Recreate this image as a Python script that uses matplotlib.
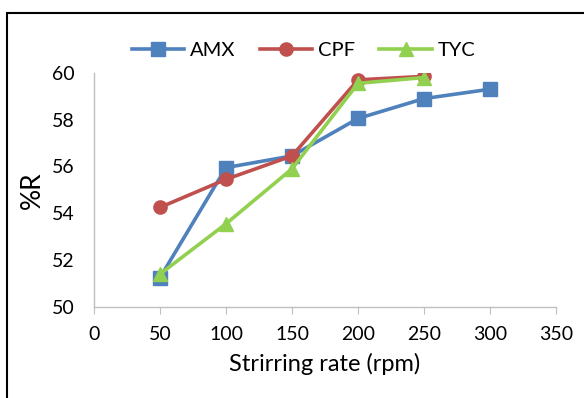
import matplotlib.pyplot as plt
from matplotlib.patches import Rectangle

plt.rcParams['font.family'] = ['Lato', 'DejaVu Sans']

# Data
rate = [50, 100, 150, 200, 250, 300]
amx = [51.25, 55.95, 56.45, 58.05, 58.9, 59.3]
cpf = [54.25, 55.45, 56.45, 59.7, 59.85]
tyc = [51.4, 53.55, 55.9, 59.55, 59.8]

fig = plt.figure(figsize=(5.84, 3.98), dpi=100)
ax = fig.add_axes([0.161, 0.229, 0.791, 0.588])

ax.plot(rate, amx, color='#4F81BD', lw=2.6, marker='s', ms=9.5, label='AMX')
ax.plot(rate[:5], cpf, color='#C0504D', lw=2.6, marker='o', ms=9.5, label='CPF')
ax.plot(rate[:5], tyc, color='#92D050', lw=2.6, marker='^', ms=10, label='TYC')

ax.set_xlim(0, 350)
ax.set_ylim(50, 60)
ax.set_xticks(range(0, 351, 50))
ax.set_yticks(range(50, 61, 2))
for s in ['top', 'right']:
    ax.spines[s].set_visible(False)
for s in ['left', 'bottom']:
    ax.spines[s].set_color('#BFBFBF')
    ax.spines[s].set_linewidth(1.0)
ax.tick_params(axis='x', direction='out', length=5, color='#BFBFBF', labelsize=14, pad=9)
ax.tick_params(axis='y', length=0, labelsize=14, pad=14)
ax.set_xlabel('Strirring rate (rpm)', fontsize=17, labelpad=7)
ax.set_ylabel('%R', fontsize=19, labelpad=5)

ax.legend(loc='center', bbox_to_anchor=(0.52, 0.872), bbox_transform=fig.transFigure,
          ncol=3, frameon=False, fontsize=14.5, handlelength=2.6, columnspacing=1.2,
          handletextpad=0.3)

# outer chart border (cut by the image edge on the right and bottom)
fig.patches.append(Rectangle((7 / 584, -0.05), 1.2, 1 - 13 / 398 + 0.05,
                             transform=fig.transFigure, fill=False,
                             edgecolor='black', lw=1.5))

fig.savefig('out.png', dpi=100)
